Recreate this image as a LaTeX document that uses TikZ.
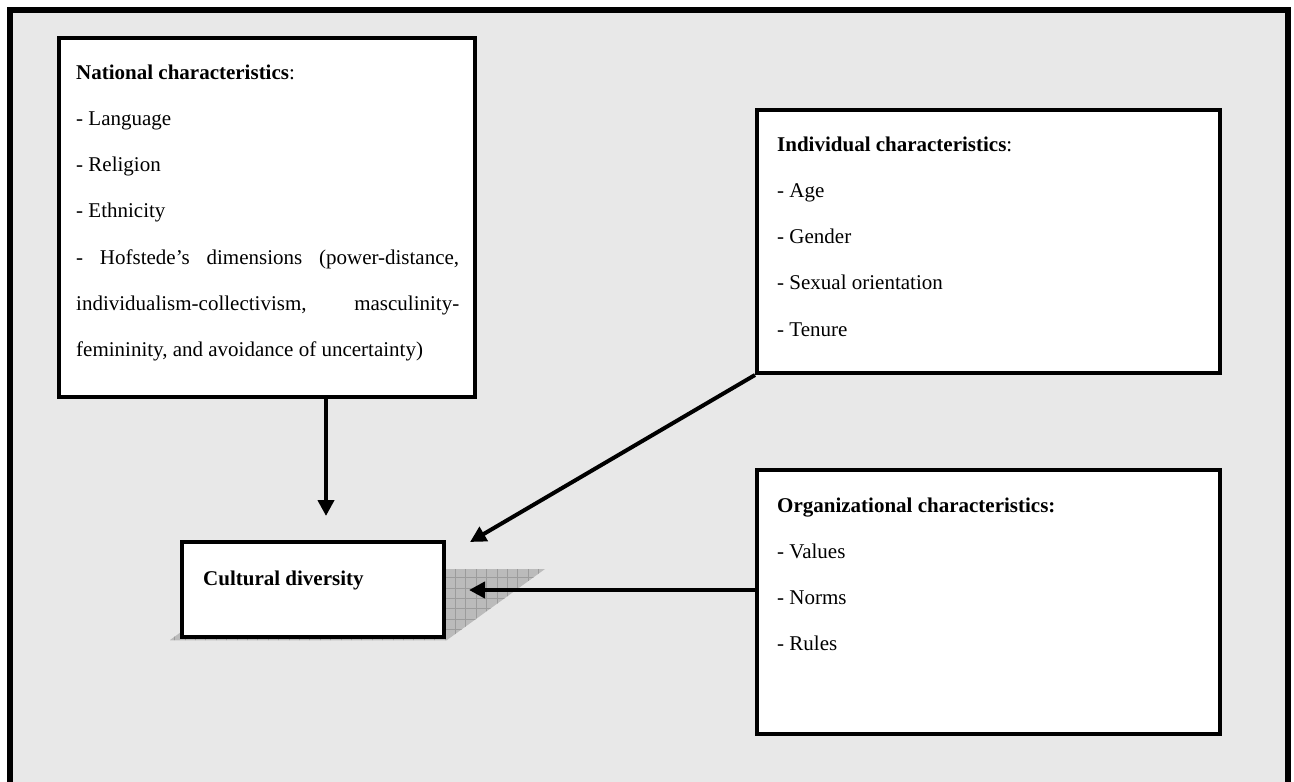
\documentclass[tikz,border=0pt]{standalone}
\usepackage{fontspec}
\setmainfont{Liberation Serif}
\usetikzlibrary{arrows.meta,calc}
\definecolor{panel}{HTML}{E8E8E8}
\definecolor{shadowfill}{HTML}{BBBBBB}
\definecolor{shadowgrid}{HTML}{9C9C9C}
\newcommand{\bodyfont}{\fontsize{21}{46.3}\selectfont}

\begin{document}
\begin{tikzpicture}[x=1pt,y=-1pt,
  box/.style={draw=black, line width=3.6pt, fill=white, rectangle, inner sep=0pt},
  arr/.style={line width=4pt, -{Triangle[length=16pt,width=16pt]}},
  txt/.style={anchor=base west, inner sep=0pt, font=\bodyfont},
]
\useasboundingbox (0,0) rectangle (1294,782);
\clip (0,0) rectangle (1294,782);
\fill[white] (0,0) rectangle (1294,782);

% outer frame with grey panel
\draw[line width=6pt, fill=panel] (10,10) rectangle (1288,830);

% hatched drop shadow of the central box
\begin{scope}
  \clip (170,640) -- (447,640) -- (545,569) -- (268,569) -- cycle;
  \fill[shadowfill] (160,560) rectangle (560,650);
  \foreach \x in {0,...,38} \draw[shadowgrid, line width=0.7pt] ({164.2+10.4*\x},560) -- ({164.2+10.4*\x},650);
  \foreach \y in {0,...,8} \draw[shadowgrid, line width=0.7pt] (160,{567.2+10.4*\y}) -- (560,{567.2+10.4*\y});
\end{scope}

% boxes
\node[box, minimum width=416.4pt, minimum height=359.4pt] (nat) at (267,217.5) {};
\node[box, minimum width=463.4pt, minimum height=263.4pt] (ind) at (988.5,241.5) {};
\node[box, minimum width=463.4pt, minimum height=264.4pt] (org) at (988.5,602) {};
\node[box, minimum width=262.4pt, minimum height=95.4pt] (cd) at (313,589.5) {};

% box contents
\node[txt] (natT) at (76,79) {\parbox[t]{383pt}{\bodyfont\hyphenpenalty=10000 \exhyphenpenalty=10000
\textbf{National characteristics}:\\
- Language\\
- Religion\\
- Ethnicity\par
- Hofstede’s dimensions (power-distance,\linebreak individualism-collectivism, masculinity-\linebreak femininity, and avoidance of uncertainty)}};

\node[txt] (indT) at (777,151) {\parbox[t]{420pt}{\bodyfont
\textbf{Individual characteristics}:\\
- Age\\
- Gender\\
- Sexual orientation\\
- Tenure}};

\node[txt] (orgT) at (777,512) {\parbox[t]{420pt}{\bodyfont
\textbf{Organizational characteristics:}\\
- Values\\
- Norms\\
- Rules}};

\node[txt, font=\bodyfont\bfseries] (cdT) at (203,585) {Cultural diversity};

% connectors
\coordinate (natTip) at (326,516);
\coordinate (indTip) at (470,542);
\coordinate (orgTip) at (469,590);
\draw[arr] (natTip |- nat.south) -- (natTip);
\draw[arr] (ind.south west) -- (indTip);
\draw[arr] (orgTip -| org.west) -- (orgTip);
\end{tikzpicture}
\end{document}
